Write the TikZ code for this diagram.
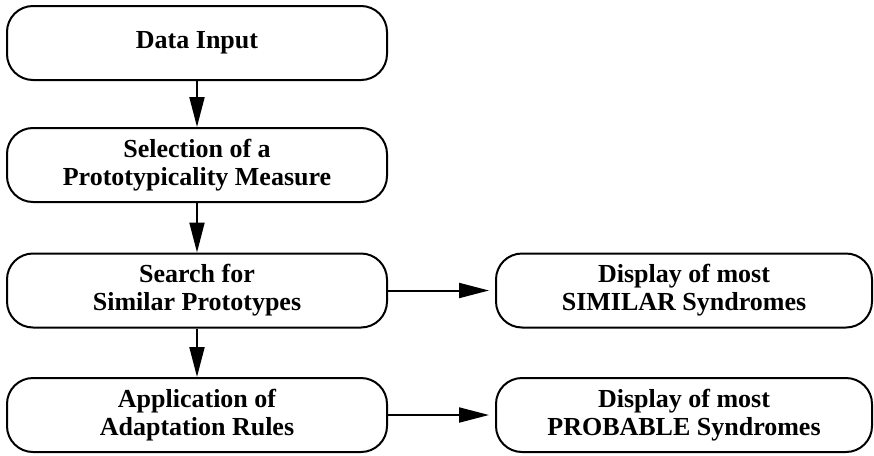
\documentclass[tikz,border=0pt]{standalone}
\usepackage{fontspec}
\setmainfont{Liberation Serif}
\usetikzlibrary{arrows.meta}
\tikzset{
  box/.style={draw=black, line width=2pt, rounded corners=26pt, fill=white,
    minimum height=74pt, inner sep=0pt, align=center,
    font=\fontsize{26}{28}\selectfont\bfseries},
  leftbox/.style={box, minimum width=380pt},
  rightbox/.style={box, minimum width=376pt},
  arr/.style={line width=2pt, -{Triangle[length=30pt,width=15pt]}}
}
\begin{document}
\begin{tikzpicture}[x=1pt,y=-1pt]
\useasboundingbox (0,0) rectangle (874,455);
\node[leftbox] (d) at (197,43) {Data Input};
\node[leftbox] (s) at (197,165) {Selection of a\\Prototypicality Measure};
\node[leftbox] (f) at (197,290.5) {Search for\\Similar Prototypes};
\node[leftbox] (a) at (197,415) {Application of\\Adaptation Rules};
\node[rightbox] (r1) at (684,290.5) {Display of most\\SIMILAR Syndromes};
\node[rightbox] (r2) at (684,415) {Display of most\\PROBABLE Syndromes};
\draw[arr] (d) -- (s);
\draw[arr] (s) -- (f);
\draw[arr] (f) -- (a);
\draw[arr, shorten >=6pt] (f.east) -- (r1.west);
\draw[arr, shorten >=6pt] (a.east) -- (r2.west);
\end{tikzpicture}
\end{document}
